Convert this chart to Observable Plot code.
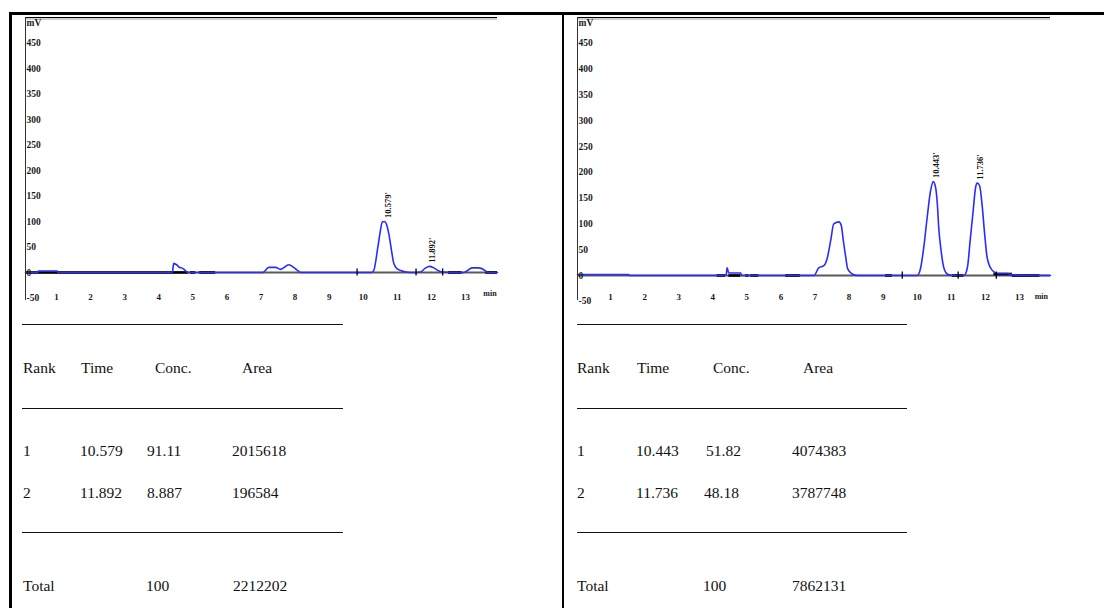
<!DOCTYPE html>
<html><head><meta charset="utf-8">
<script src="https://cdn.jsdelivr.net/npm/d3@7"></script>
<script src="https://cdn.jsdelivr.net/npm/@observablehq/plot@0.6"></script>
<style>
body{margin:0;background:#fff;width:1104px;height:608px;overflow:hidden;position:relative;font-family:"Liberation Serif","Times New Roman",serif;}
.b{position:absolute;background:#000;}
.chart{position:absolute;top:0;overflow:hidden;}
.chart svg{overflow:hidden;}
.t{position:absolute;font-size:15.5px;line-height:18px;color:#111;white-space:nowrap;}
.rule{position:absolute;height:1.3px;background:#111;}
</style></head><body>
<div id="c1" class="chart" style="left:0;width:560px;height:303px"></div>
<div id="c2" class="chart" style="left:560px;width:544px;height:306px"></div>
<div id="tables"></div>
<div class="b" style="left:9px;top:12px;width:1095px;height:2.5px"></div>
<div class="b" style="left:9px;top:12px;width:2.5px;height:596px"></div>
<div class="b" style="left:561.5px;top:12px;width:2.5px;height:596px"></div>
<script>
// ---------- axis ticks ----------
const xTicks = [1,2,3,4,5,6,7,8,9,10,11,12,13];
const yTicks = [-50,0,50,100,150,200,250,300,350,400,450];

// ---------- chromatogram 1 ----------
const trace1Time = [0.09,0.45,0.47,1.02,1.04,4.32,4.40,4.44,4.50,4.56,4.60,4.67,4.76,4.82,4.86,7.05,7.23,7.43,7.57,7.82,7.96,8.11,8.16,10.25,10.31,10.43,10.49,10.56,10.62,10.68,10.75,10.83,10.90,11.00,11.19,11.40,11.68,11.83,11.95,12.07,12.22,12.32,12.95,13.20,13.39,13.59,13.64,13.94];
const trace1mV   = [0,0,3,3,0,0,1,18,16,13,10,9,5,1,0,0,10,10,6,15,10,2,0,0,4,50,76,99,100,95,76,43,17,7,2,0,1,9,12,9,3,1,0,9,9,3,0,0];
const peak1Time = ["10.579","11.892"];
const peak1Height = [100,12];
const marks1 = [9.82,11.55,12.33];
const base1 = [[0.09,4.3,0],[4.3,4.87,0],[4.93,5.08,0],[5.2,5.67,0],[12.5,12.9,0],[13.6,13.94,0]];

// ---------- chromatogram 2 ----------
const trace2Time = [0.03,1.53,1.55,4.37,4.40,4.42,4.47,4.82,4.85,6.97,7.11,7.26,7.36,7.46,7.55,7.70,7.77,7.83,7.90,7.96,8.09,8.24,10.00,10.10,10.19,10.29,10.39,10.47,10.54,10.59,10.63,10.70,10.78,10.88,11.03,11.37,11.47,11.56,11.64,11.71,11.76,11.83,11.91,11.97,12.05,12.15,12.25,12.35,12.64,12.79,13.91];
const trace2mV   = [2,2,0,0,4,15,5,5,0,0,15,19,34,68,100,104,97,68,36,13,3,0,0,15,54,112,164,182,170,138,93,48,15,3,0,0,15,73,125,170,179,174,132,86,35,15,7,4,4,1,0];
const peak2Time = ["10.443","11.736"];
const peak2Height = [182,179];
const marks2 = [9.56,11.20,12.32];
const base2 = [[4.13,4.37,0],[4.47,4.82,0],[4.97,5.06,0],[5.11,5.35,0],[6.14,6.57,0],[9.07,9.27,0],[11.03,11.37,0],[12.25,12.79,3],[12.79,13.6,0]];

// ---------- tables ----------
const headers = ["Rank","Time","Conc.","Area"];
const ranks = ["1","2"];
const time1 = ["10.579","11.892"], conc1 = ["91.11","8.887"], area1 = ["2015618","196584"];
const time2 = ["10.443","11.736"], conc2 = ["51.82","48.18"], area2 = ["4074383","3787748"];
const totalLabel = "Total";
const totalConc1 = "100", totalArea1 = "2212202";
const totalConc2 = "100", totalArea2 = "7862131";

const FONT = "'Liberation Serif','Times New Roman',serif";
function makeChart(cfg){
  const data = cfg.time.map((t,i)=>({t, v: cfg.mV[i]}));
  const peaks = cfg.peakTime.map((s,i)=>({t:+s, label:s+"'", h:cfg.peakHeight[i]}));
  const x0 = cfg.xDomain[0];
  const lab = {fontSize:9.5, fontWeight:"bold", fill:"#1a1a1a"};
  return Plot.plot({
    width: cfg.width, height: cfg.height,
    marginLeft: cfg.ml, marginRight: cfg.mr, marginTop: cfg.mt, marginBottom: cfg.mb,
    x: {domain: cfg.xDomain, axis: null},
    y: {domain: cfg.yDomain, axis: null},
    style: {fontFamily: FONT, background: "transparent"},
    marks: [
      Plot.ruleY([0], {stroke:"#5a5a5a", strokeWidth:2}),
      Plot.ruleY(cfg.base, {x1:d=>d[0], x2:d=>d[1], y:d=>d[2], stroke:"#000", strokeWidth:2.6}),
      Plot.line(data, {x:"t", y:"v", stroke:"#2b2bff", strokeWidth:1.6, curve:"monotone-x"}),
      Plot.ruleX(cfg.marks, {x:d=>d, y1:-7, y2:7, stroke:"#000", strokeWidth:1.3}),
      Plot.ruleY([500], {stroke:"#000", strokeWidth:1}),
      Plot.ruleY([500], {stroke:"#a0a0a0", strokeWidth:1, dy:1.5}),
      Plot.ruleX([x0], {y1:cfg.yDomain[0], y2:500, stroke:"#333", strokeWidth:1}),
      Plot.text(yTicks, {x:x0, y:d=>d, text:d=>String(d), textAnchor:"start", dx:1, ...lab}),
      Plot.text(["mV"], {x:x0, y:490, text:d=>d, textAnchor:"start", dx:1, ...lab}),
      Plot.text(xTicks, {x:d=>d, y:cfg.xLabelLevel, text:d=>String(d), ...lab, fontSize:9}),
      Plot.text(["min"], {x:cfg.minAt, y:-41, text:d=>d, fontSize:8, fontWeight:"bold", fill:"#1a1a1a"}),
      Plot.text(peaks, {x:"t", y:"h", text:"label", rotate:-90, textAnchor:"start", dx:cfg.peakDx, dy:-3.5, fontSize:8.5, fontWeight:"bold", fill:"#111"})
    ]
  });
}

document.getElementById("c1").appendChild(makeChart({
  width:560, height:303, ml:25, mr:63, mt:17, mb:3, xDomain:[0.09,13.94], yDomain:[-55,500],
  time:trace1Time, mV:trace1mV, peakTime:peak1Time, peakHeight:peak1Height,
  marks:marks1, base:base1, xLabelLevel:-48, minAt:13.72, peakDx:5
}));
document.getElementById("c2").appendChild(makeChart({
  width:544, height:306, ml:17, mr:54, mt:17, mb:6, xDomain:[0.03,13.91], yDomain:[-48.4,500],
  time:trace2Time, mV:trace2mV, peakTime:peak2Time, peakHeight:peak2Height,
  marks:marks2, base:base2, xLabelLevel:-41.5, minAt:13.64, peakDx:3.5
}));

// ---------- tables (HTML) ----------
const T = document.getElementById("tables");
function txt(s, x, cy){ const e=document.createElement("div"); e.className="t"; e.textContent=s; e.style.left=x+"px"; e.style.top=(cy-9)+"px"; T.appendChild(e); }
function rule(x1, x2, y){ const e=document.createElement("div"); e.className="rule"; e.style.left=x1+"px"; e.style.width=(x2-x1)+"px"; e.style.top=y+"px"; T.appendChild(e); }
function table(cfg){
  [324,408,532].forEach(y=>rule(cfg.r1, cfg.r2, y));
  headers.forEach((h,i)=>txt(h, cfg.hx[i], 368));
  ranks.forEach((r,i)=>{
    const cy = [451,493][i];
    txt(r, cfg.vx[0], cy); txt(cfg.time[i], cfg.vx[1], cy);
    txt(cfg.conc[i], cfg.cx[i], cy); txt(cfg.area[i], cfg.vx[3], cy);
  });
  txt(totalLabel, cfg.vx[0], 586); txt(cfg.tc, cfg.tx[0], 586); txt(cfg.ta, cfg.tx[1], 586);
}
table({r1:22, r2:343, hx:[23,81,155,242], vx:[23,80,147,232], cx:[147,147], time:time1, conc:conc1, area:area1, tc:totalConc1, ta:totalArea1, tx:[146,233]});
table({r1:577, r2:907, hx:[577,637,713,803], vx:[577,636,706,792], cx:[706,704], time:time2, conc:conc2, area:area2, tc:totalConc2, ta:totalArea2, tx:[703,792]});
</script>
</body></html>
